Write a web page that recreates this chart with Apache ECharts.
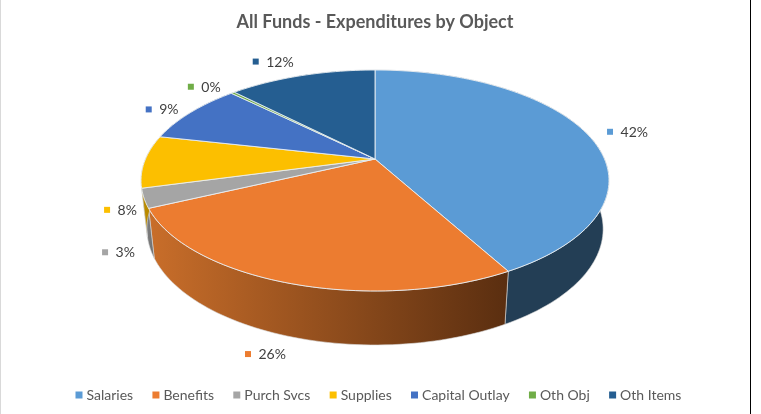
<!DOCTYPE html>
<html>
<head>
<meta charset="utf-8">
<style>html,body{margin:0;padding:0;background:#fff}#chart{width:761px;height:414px}</style>
<script src="https://cdn.jsdelivr.net/npm/echarts@6/dist/echarts.min.js"></script>
</head>
<body>
<div id="chart"></div>
<script>
// All Funds expenditures, share of total by object (percent)
const categories = ['Salaries', 'Benefits', 'Purch Svcs', 'Supplies', 'Capital Outlay', 'Oth Obj', 'Oth Items'];
const shares = [42.0, 26.0, 2.8, 7.7, 8.9, 0.3, 12.3];
const faceColors = ['#5b9bd5', '#ec7c30', '#a5a5a5', '#fcbf00', '#4472c4', '#70ad47', '#255e91'];
const wallLeft = ['#233e55', '#c96e2a', '#8a8a8a', '#b98a00', '#2f5190', '#4f7a33', '#1a4266'];
const wallRight = ['#233e55', '#5a2e10', '#6e6e6e', '#b98a00', '#2f5190', '#4f7a33', '#1a4266'];

// Callout placement: square centre relative to the slice's rim point
const calloutOffset = [[23, -2], [-40, 71], [-39, 54], [-37.5, 48.5], [-42, -3], [-42, -6], [-46, -14]];

// Perspective projection of the pie disc
const apexX = 375, apexY = 159, spanX = 229.5, spanY = 106.3, tilt = 0.1946;
const wallDepth = 54, wallTaper = 0.975, wallStretch = 0.05, frontY = 291;

function rimPoint(turn) {
  const a = turn * Math.PI * 2;
  const u = Math.sin(a), v = -Math.cos(a), w = 1 - tilt * v;
  return [apexX + spanX * u / w, apexY + spanY * v / w];
}
function floorPoint(p) {
  return [apexX + (p[0] - apexX) * wallTaper, p[1] + wallDepth - (frontY - p[1]) * wallStretch];
}
function arcPoints(from, to) {
  const n = Math.max(2, Math.ceil((to - from) * 240));
  const pts = [];
  for (let i = 0; i <= n; i++) pts.push(rimPoint(from + (to - from) * i / n));
  return pts;
}

const total = shares.reduce((s, x) => s + x, 0);
const starts = [];
shares.reduce((run, x, i) => { starts[i] = run; return run + x; }, 0);

function renderSlice(params, api) {
  const i = params.seriesIndex;
  const value = api.value(0);
  const from = starts[i] / total, to = (starts[i] + value) / total;
  const rim = arcPoints(from, to);
  const floor = rim.map(floorPoint).reverse();
  const mid = rimPoint((from + to) / 2);
  const sq = [mid[0] + calloutOffset[i][0], mid[1] + calloutOffset[i][1]];
  const front = Math.cos(Math.PI * 2 * (from + to) / 2) < 0.5;
  return {
    type: 'group',
    children: [
      {
        type: 'polygon', z2: front ? 3 + i : 1,
        shape: { points: rim.concat(floor) },
        style: {
          fill: {
            type: 'linear', x: 0, y: 0, x2: 1, y2: 0,
            colorStops: [{ offset: 0, color: wallLeft[i] }, { offset: 1, color: wallRight[i] }]
          },
          stroke: '#d8d8d8', lineWidth: 0.6
        }
      },
      {
        type: 'polygon', z2: 20,
        shape: { points: [[apexX, apexY]].concat(rim) },
        style: { fill: faceColors[i], stroke: '#e9eef3', lineWidth: 0.9, lineJoin: 'round' }
      },
      {
        type: 'rect', z2: 30,
        shape: { x: sq[0] - 3, y: sq[1] - 3, width: 6, height: 6 },
        style: { fill: faceColors[i] }
      },
      {
        type: 'text', z2: 30,
        x: sq[0] + 10.5, y: sq[1] + 0.5,
        style: {
          text: Math.round(value / total * 100) + '%',
          font: '14px Lato', fill: '#404040',
          textAlign: 'left', textVerticalAlign: 'middle'
        }
      }
    ]
  };
}

const chart = echarts.init(document.getElementById('chart'), null, { renderer: 'canvas' });
chart.setOption({
  animation: false,
  backgroundColor: '#ffffff',
  title: {
    text: 'All Funds - Expenditures by Object',
    left: 370, top: 8, textAlign: 'center',
    textStyle: { fontFamily: 'Lato', fontSize: 18, fontWeight: 'bold', color: '#595959' }
  },
  legend: {
    data: categories,
    left: 70.5, bottom: 7,
    icon: 'rect', itemWidth: 7, itemHeight: 7, itemGap: 19.3,
    textStyle: { fontFamily: 'Lato', fontSize: 14, color: '#595959', padding: [0, 0, 0, -1] }
  },
  graphic: [
    { type: 'rect', shape: { x: 0, y: 0, width: 1, height: 414 }, style: { fill: '#d9d9d9' }, silent: true },
    { type: 'rect', shape: { x: 750, y: 0, width: 1, height: 414 }, style: { fill: '#000000' }, silent: true }
  ],
  series: categories.map((name, i) => ({
    type: 'custom',
    name,
    coordinateSystem: 'none',
    itemStyle: { color: faceColors[i] },
    renderItem: renderSlice,
    data: [[shares[i]]],
    silent: true
  }))
});
</script>
</body>
</html>
